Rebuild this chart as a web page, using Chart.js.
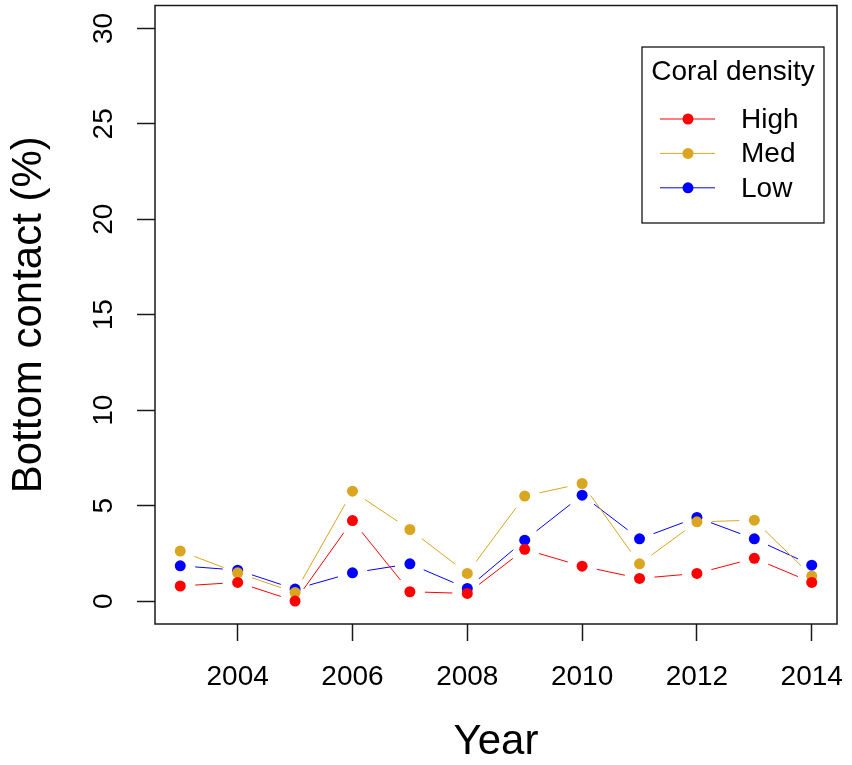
<!DOCTYPE html>
<html>
<head>
<meta charset="utf-8">
<script src="https://cdn.jsdelivr.net/npm/chart.js@4"></script>
<style>
  html, body { margin: 0; padding: 0; background: #fff; }
  canvas { display: block; }
</style>
</head>
<body>
<canvas id="chart" width="852" height="765"></canvas>
<script>
const years = [2003, 2004, 2005, 2006, 2007, 2008, 2009, 2010, 2011, 2012, 2013, 2014];
const high = [0.79, 0.98, 0.0, 4.22, 0.49, 0.40, 2.71, 1.83, 1.19, 1.45, 2.24, 0.98];
const med = [2.62, 1.48, 0.45, 5.76, 3.75, 1.45, 5.50, 6.16, 1.95, 4.15, 4.24, 1.31];
const low = [1.85, 1.62, 0.63, 1.48, 1.95, 0.66, 3.19, 5.55, 3.26, 4.38, 3.26, 1.88];
const xTicks = [2004, 2006, 2008, 2010, 2012, 2014];
const yTicks = [0, 5, 10, 15, 20, 25, 30];
const seriesNames = ["High", "Med", "Low"];
const seriesColors = ["#ff0000", "#daa520", "#0000ff"];
const legendTitle = "Coral density";

const FONT = '"Liberation Sans", Arial, Helvetica, sans-serif';
const AXIS = "#1a1a1a";

// R type="b": leave a gap round each point
function gapDash(c) {
    const L = Math.hypot(c.p1.x - c.p0.x, c.p1.y - c.p0.y);
    const g = 15;
    return L > 2 * g ? [0, g, L - 2 * g, 2 * g + 10] : [0, L + 10];
}

function makeSet(name, values, color) {
    return {
        label: name,
        data: years.map((yr, i) => ({ x: yr, y: values[i] })),
        borderColor: color,
        backgroundColor: color,
        borderWidth: 1,
        pointRadius: 5.5,
        pointBorderWidth: 0,
        pointBackgroundColor: color,
        segment: { borderDash: gapDash }
    };
}

const boxAndLegend = {
    id: "boxAndLegend",
    afterDraw(chart) {
        const ctx = chart.ctx;
        const a = chart.chartArea;
        ctx.save();
        ctx.strokeStyle = AXIS;
        ctx.lineWidth = 1.5;
        ctx.strokeRect(a.left, a.top, a.right - a.left, a.bottom - a.top);

        // legend box, top right inside the plot
        const lx = 642, ly = 47, lw = 182, lh = 176;
        ctx.lineWidth = 1.2;
        ctx.strokeStyle = "#000";
        ctx.strokeRect(lx, ly, lw, lh);
        ctx.fillStyle = "#000";
        ctx.font = "28px " + FONT;
        ctx.textAlign = "center";
        ctx.textBaseline = "alphabetic";
        ctx.fillText(legendTitle, lx + lw / 2, 80);

        chart.data.datasets.forEach((ds, i) => {
            const cy = 119 + i * 34.4;
            ctx.strokeStyle = ds.borderColor;
            ctx.lineWidth = 1;
            ctx.beginPath();
            ctx.moveTo(660, cy);
            ctx.lineTo(715, cy);
            ctx.stroke();
            ctx.fillStyle = ds.borderColor;
            ctx.beginPath();
            ctx.arc(688, cy, 5.5, 0, Math.PI * 2);
            ctx.fill();
            ctx.fillStyle = "#000";
            ctx.textAlign = "left";
            ctx.textBaseline = "middle";
            ctx.fillText(ds.label, 741, cy + 1);
        });
        ctx.restore();
    }
};

new Chart(document.getElementById("chart"), {
    type: "line",
    data: {
        datasets: [
            makeSet(seriesNames[0], high, seriesColors[0]),
            makeSet(seriesNames[1], med, seriesColors[1]),
            makeSet(seriesNames[2], low, seriesColors[2])
        ]
    },
    options: {
        responsive: false,
        animation: false,
        layout: { padding: { top: 5, right: 15, bottom: 0, left: 0 } },
        plugins: {
            legend: { display: false },
            tooltip: { enabled: false }
        },
        scales: {
            x: {
                type: "linear",
                min: 2002.56,
                max: 2014.44,
                afterBuildTicks: s => { s.ticks = xTicks.map(v => ({ value: v })); },
                afterFit: s => { s.height = 141; s.paddingLeft = 0; s.paddingRight = 0; },
                border: { display: false },
                grid: {
                    drawOnChartArea: false,
                    drawTicks: true,
                    tickLength: 17,
                    tickColor: AXIS,
                    tickWidth: 1.5
                },
                ticks: {
                    color: "#000",
                    font: { family: FONT, size: 28 },
                    padding: 19,
                    maxRotation: 0,
                    autoSkip: false,
                    callback: v => String(v)
                },
                title: {
                    display: true,
                    text: "Year",
                    color: "#000",
                    font: { family: FONT, size: 42, lineHeight: 1 },
                    padding: { top: 0, bottom: 2 }
                }
            },
            y: {
                type: "linear",
                min: -1.2,
                max: 31.2,
                afterBuildTicks: s => { s.ticks = yTicks.map(v => ({ value: v })); },
                afterFit: s => { s.width = 155; s.paddingTop = 0; s.paddingBottom = 0; },
                border: { display: false },
                grid: {
                    drawOnChartArea: false,
                    drawTicks: true,
                    tickLength: 18,
                    tickColor: AXIS,
                    tickWidth: 1.5
                },
                ticks: {
                    color: "#000",
                    font: { family: FONT, size: 28 },
                    minRotation: 90,
                    maxRotation: 90,
                    crossAlign: "center",
                    padding: 17,
                    autoSkip: false,
                    callback: v => String(v)
                },
                title: {
                    display: true,
                    text: "Bottom contact (%)",
                    color: "#000",
                    font: { family: FONT, size: 42, lineHeight: 1 },
                    padding: { top: 8, bottom: 0 }
                }
            }
        }
    },
    plugins: [boxAndLegend]
});
</script>
</body>
</html>
